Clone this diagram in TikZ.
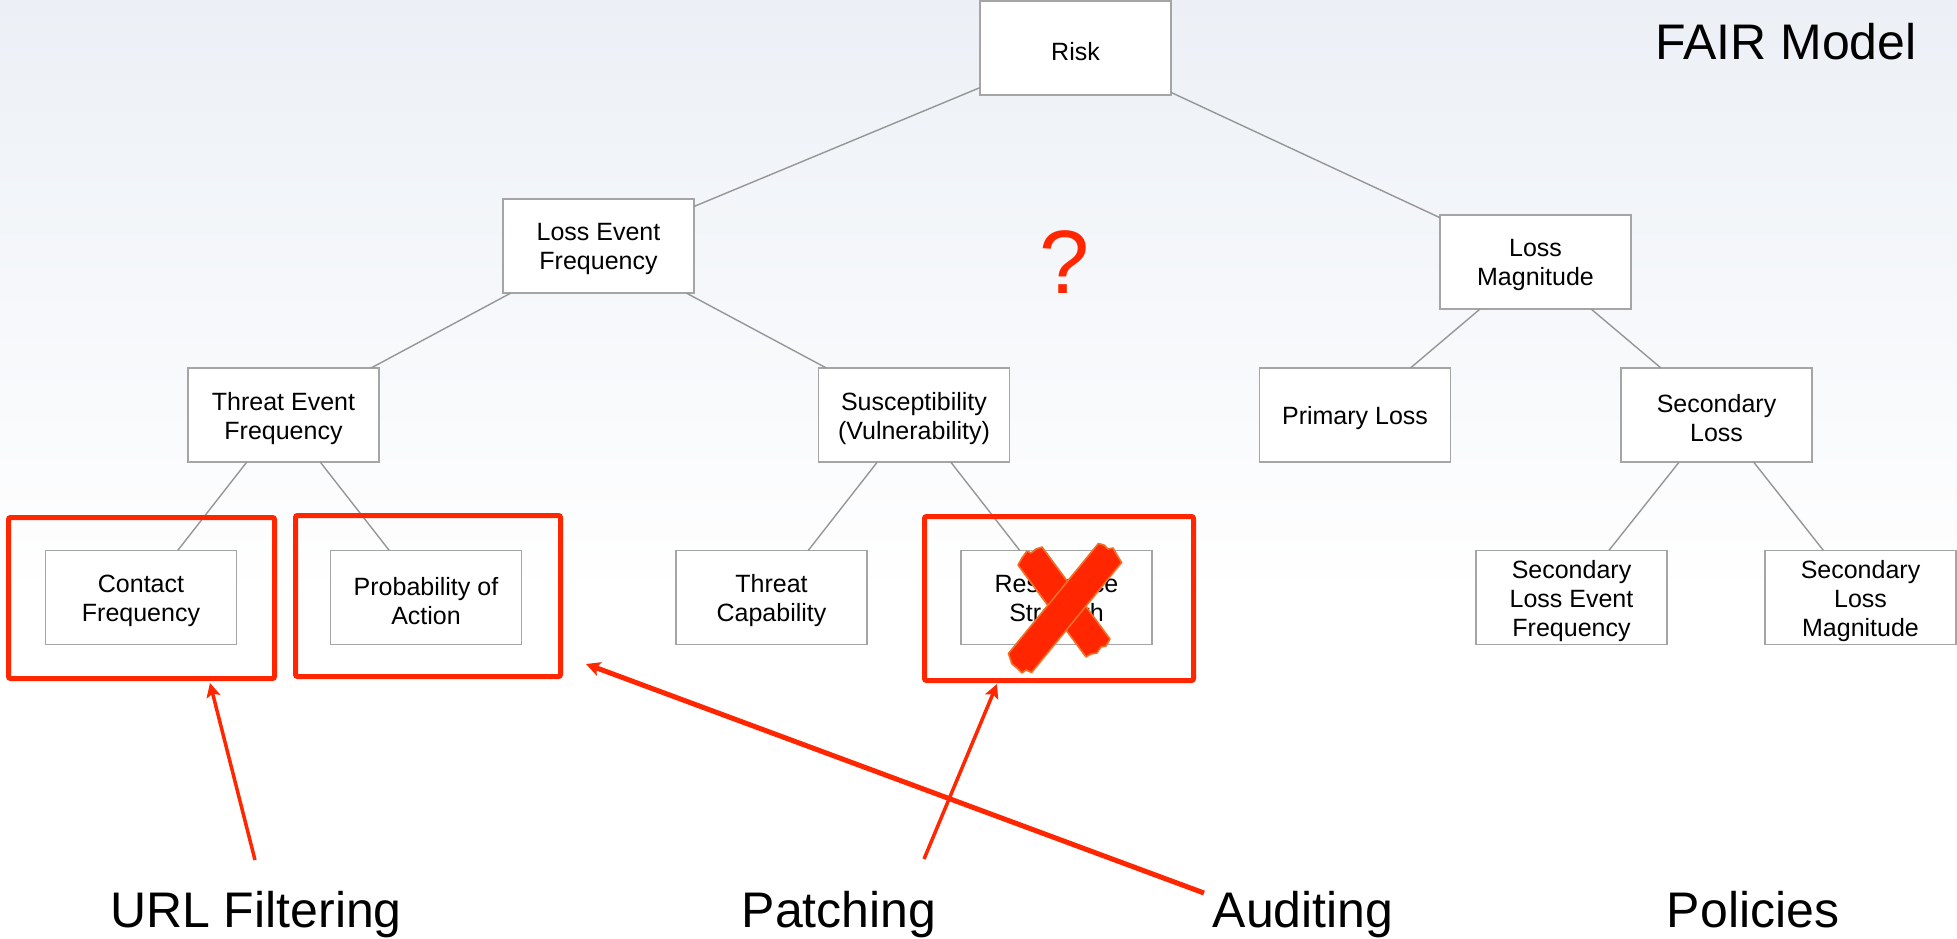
\documentclass[tikz,border=0pt]{standalone}
\usepackage{fontspec}
\setmainfont{Liberation Sans}
\usetikzlibrary{arrows.meta}
\definecolor{hlred}{RGB}{255,38,0}
\definecolor{boxline}{RGB}{165,165,165}
\definecolor{linkgray}{RGB}{150,150,150}
\definecolor{bgtop}{RGB}{236,240,246}
\definecolor{xedge}{RGB}{240,112,40}

\begin{document}
\begin{tikzpicture}[x=0.5pt,y=-0.5pt,
  factor/.style={draw=boxline, line width=0.75pt, fill=white,
    minimum width=95.5pt, minimum height=47pt, inner sep=0pt, outer sep=0pt},
  factortext/.style={align=center, inner sep=0pt, yshift=-1.6pt,
    font=\fontsize{12.5}{14.5}\selectfont},
  link/.style={draw=linkgray, line width=0.7pt},
  hlbox/.style={draw=hlred, line width=2.5pt, rounded corners=1pt,
    inner sep=0pt, outer sep=0pt},
  control/.style={font=\fontsize{25}{30}\selectfont, anchor=base, inner sep=0pt},
  pointer/.style={draw=hlred, -{Stealth[length=7pt,width=7pt,inset=1.5pt]}},
  crossbar/.style={fill=hlred, draw=xedge, line width=0.8pt, line join=round}
]
\useasboundingbox (0,0) rectangle (1957,938);

% page background: pale blue-grey fading to white
\fill[white] (0,0) rectangle (1957,938);
\fill[top color=bgtop, bottom color=white] (0,0) rectangle (1957,600);

% factor tree: boxes
\node[factor] (risk) at (1075.5,48) {};
\node[factor] (lef)  at (598.5,246) {};
\node[factor] (lm)   at (1535.5,262) {};
\node[factor] (tef)  at (283.5,415) {};
\node[factor] (vuln) at (914,415) {};
\node[factor] (pl)   at (1355,415) {};
\node[factor] (sl)   at (1716.5,415) {};
\node[factor] (cf)   at (141,597.5) {};
\node[factor] (poa)  at (426,597.5) {};
\node[factor] (tc)   at (771.5,597.5) {};
\node[factor] (rs)   at (1056.5,597.5) {};
\node[factor] (slef) at (1571.5,597.5) {};
\node[factor] (slm)  at (1860.5,597.5) {};

% factor tree: captions
\node[factortext] (risk-t) at (risk) {Risk};
\node[factortext] (lef-t)  at (lef)  {Loss Event\\Frequency};
\node[factortext] (lm-t)   at (lm)   {Loss\\Magnitude};
\node[factortext] (tef-t)  at (tef)  {Threat Event\\Frequency};
\node[factortext] (vuln-t) at (vuln) {Susceptibility\\(Vulnerability)};
\node[factortext] (pl-t)   at (pl)   {Primary Loss};
\node[factortext] (sl-t)   at (sl)   {Secondary\\Loss};
\node[factortext] (cf-t)   at (cf)   {Contact\\Frequency};
\node[factortext] (poa-t)  at (poa)  {Probability of\\Action};
\node[factortext] (tc-t)   at (tc)   {Threat\\Capability};
\node[factortext] (rs-t)   at (rs)   {Resistance\\Strength};
\node[factortext] (slef-t) at (slef) {Secondary\\Loss Event\\Frequency};
\node[factortext] (slm-t)  at (slm)  {Secondary\\Loss\\Magnitude};

\draw[link] (risk) -- (lef);
\draw[link] (risk) -- (lm);
\draw[link] (lef) -- (tef);
\draw[link] (lef) -- (vuln);
\draw[link] (lm) -- (pl);
\draw[link] (lm) -- (sl);
\draw[link] (tef) -- (cf);
\draw[link] (tef) -- (poa);
\draw[link] (vuln) -- (tc);
\draw[link] (vuln) -- (rs);
\draw[link] (sl) -- (slef);
\draw[link] (sl) -- (slm);

% title and open question
\node[control] (title) at (1786,59) {FAIR Model};
\node[font=\fontsize{45}{50}\selectfont, text=hlred, anchor=base, inner sep=0pt] (q) at (1064.5,293) {?};

% crossed-out factor
\filldraw[crossbar] (1018,565) -- (1022,558) -- (1027,551) -- (1031,553) -- (1036,549)
  -- (1042,547) -- (1110,639) -- (1106,646) -- (1101,647) -- (1097,653)
  -- (1091,654) -- (1086,657) -- cycle;
\filldraw[crossbar] (1098.4,543.5) -- (1104,545) -- (1108,549) -- (1113,548)
  -- (1117,555) -- (1121.6,562.5) -- (1031.6,672.5) -- (1026,670) -- (1022,673)
  -- (1017,668) -- (1012,664) -- (1008.4,653.5) -- cycle;

% highlighted factors
\node[hlbox, minimum width=133pt, minimum height=80.5pt] (hlcf) at (141.5,598) {};
\node[hlbox, minimum width=132.5pt, minimum height=80.5pt] (hlpoa) at (428,596) {};
\node[hlbox, minimum width=134.5pt, minimum height=82pt] (hlrs) at (1059,598.5) {};

% controls
\node[control] (url)   at (256,927)  {URL Filtering};
\node[control] (patch) at (839,927)  {Patching};
\node[control] (audit) at (1303,927) {Auditing};
\node[control] (pol)   at (1753,927) {Policies};

\coordinate (urlTail)   at (255,860);
\coordinate (urlTip)    at (210,683);
\coordinate (patchTail) at (924,859);
\coordinate (patchTip)  at (997,684);
\coordinate (auditTail) at (1204,893);
\coordinate (auditTip)  at (586,664);

\draw[pointer, line width=1.75pt] (urlTail) -- (urlTip);
\draw[pointer, line width=1.75pt] (patchTail) -- (patchTip);
\draw[pointer, line width=2.5pt] (auditTail) -- (auditTip);
\end{tikzpicture}
\end{document}
